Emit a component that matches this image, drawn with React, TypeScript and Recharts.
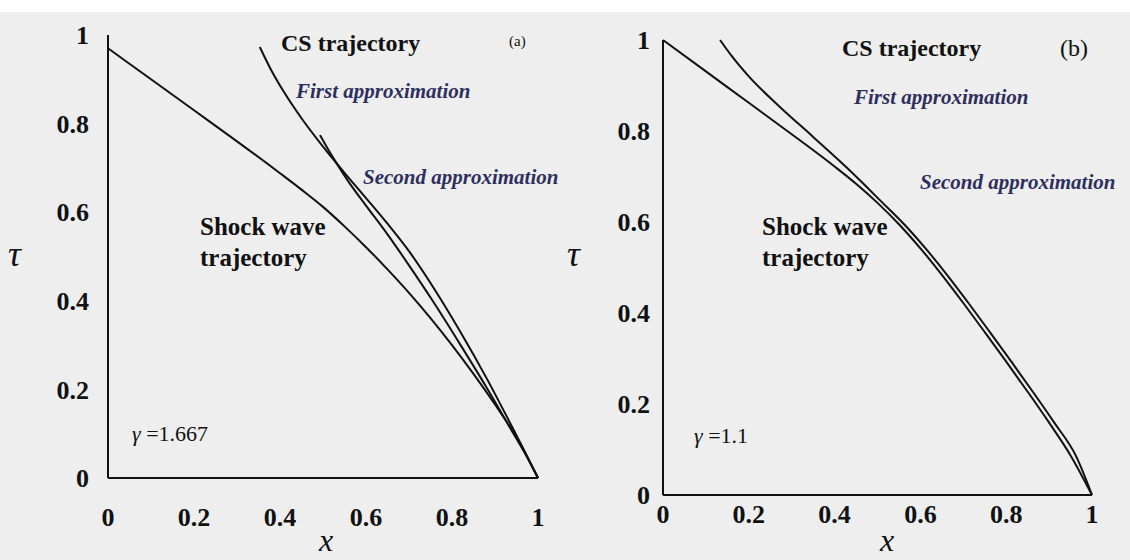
import React from 'react';
import { LineChart, Line, XAxis, YAxis } from 'recharts';

// axis ticks
const xTicks = [0, 0.2, 0.4, 0.6, 0.8, 1];
const tauTicks = [0, 0.2, 0.4, 0.6, 0.8, 1];

// (a) gamma = 1.667
const shockA_x = [0, 0.1, 0.2, 0.3, 0.4, 0.45, 0.5, 0.55, 0.6, 0.65, 0.7, 0.75, 0.8, 0.85, 0.9, 0.95, 1];
const shockA_tau = [0.97, 0.9, 0.83, 0.76, 0.688, 0.651, 0.612, 0.568, 0.521, 0.471, 0.418, 0.361, 0.3, 0.235, 0.166, 0.092, 0];
const firstA_x = [0.353, 0.38, 0.41, 0.45, 0.5, 0.55, 0.6, 0.65, 0.7, 0.76, 0.82, 0.88, 0.94, 0.97, 1];
const firstA_tau = [0.973, 0.92, 0.87, 0.812, 0.748, 0.689, 0.632, 0.574, 0.512, 0.425, 0.329, 0.226, 0.115, 0.058, 0];
const secondA_x = [0.493, 0.51, 0.53, 0.56, 0.6, 0.65, 0.7, 0.755, 0.82, 0.88, 0.94, 0.97, 1];
const secondA_tau = [0.774, 0.745, 0.713, 0.668, 0.615, 0.55, 0.48, 0.4, 0.3, 0.205, 0.105, 0.055, 0];

// (b) gamma = 1.1
const shockB_x = [0, 0.1, 0.2, 0.3, 0.4, 0.45, 0.5, 0.55, 0.6, 0.65, 0.7, 0.75, 0.8, 0.85, 0.9, 0.95, 1];
const shockB_tau = [1.0, 0.931, 0.862, 0.793, 0.722, 0.684, 0.642, 0.595, 0.542, 0.484, 0.422, 0.358, 0.293, 0.227, 0.159, 0.087, 0];
const csB_x = [0.133, 0.16, 0.2, 0.27, 0.35, 0.43, 0.512, 0.562, 0.612, 0.662, 0.712, 0.762, 0.812, 0.862, 0.912, 0.962, 1];
const csB_tau = [1.0, 0.965, 0.92, 0.855, 0.787, 0.718, 0.642, 0.595, 0.542, 0.484, 0.422, 0.358, 0.293, 0.227, 0.159, 0.087, 0];

const toPoints = (xs: number[], ts: number[]) => xs.map((x, i) => ({ x, tau: ts[i] }));

const SERIF = '"Liberation Serif", "Times New Roman", serif';
const INK = '#111';
const BLUE = '#2f2f5f';

const tickStyle = { fontFamily: SERIF, fontSize: 26, fontWeight: 700, fill: INK };

interface PanelProps {
  left: number;
  width: number;
  top: number;
  xAxisH: number;
  yAxisW: number;
  right: number;
  xTickMargin: number;
  yTickMargin: number;
  series: { x: number; tau: number }[][];
}

const Panel = ({ left, width, top, xAxisH, yAxisW, right, xTickMargin, yTickMargin, series }: PanelProps) => (
  <div style={{ position: 'absolute', left, top: 0 }}>
    <LineChart width={width} height={560} margin={{ top, right, bottom: 0, left: 0 }}>
      <XAxis
        type="number"
        dataKey="x"
        domain={[0, 1]}
        ticks={xTicks}
        interval={0}
        height={xAxisH}
        tickLine={false}
        tickSize={6}
        tickMargin={xTickMargin}
        axisLine={{ stroke: INK, strokeWidth: 2 }}
        tick={tickStyle}
      />
      <YAxis
        type="number"
        dataKey="tau"
        domain={[0, 1]}
        ticks={tauTicks}
        interval={0}
        width={yAxisW}
        tickLine={false}
        tickSize={6}
        tickMargin={yTickMargin}
        axisLine={{ stroke: INK, strokeWidth: 2 }}
        tick={tickStyle}
      />
      {series.map((s, i) => (
        <Line
          key={i}
          data={s}
          dataKey="tau"
          type="monotone"
          stroke={INK}
          strokeWidth={2}
          dot={false}
          isAnimationActive={false}
        />
      ))}
    </LineChart>
  </div>
);

const bold = { fontFamily: SERIF, fontWeight: 700, fill: INK };
const approx = { fontFamily: SERIF, fontWeight: 700, fontStyle: 'italic', fill: BLUE, fontSize: 21 };

export default function App() {
  return (
    <div style={{ position: 'absolute', left: 0, top: 0, width: 1130, height: 560, background: '#eeeeee', overflow: 'hidden' }}>
      <div style={{ position: 'absolute', left: 0, top: 0, width: 1130, height: 12, background: '#ffffff' }} />
      <Panel
        left={0}
        width={560}
        top={35}
        xAxisH={82}
        yAxisW={108}
        right={22}
        xTickMargin={24}
        yTickMargin={13}
        series={[toPoints(shockA_x, shockA_tau), toPoints(firstA_x, firstA_tau), toPoints(secondA_x, secondA_tau)]}
      />
      <Panel
        left={560}
        width={570}
        top={40}
        xAxisH={65}
        yAxisW={103}
        right={38}
        xTickMargin={4}
        yTickMargin={7}
        series={[toPoints(shockB_x, shockB_tau), toPoints(csB_x, csB_tau)]}
      />
      <svg width={1130} height={560} style={{ position: 'absolute', left: 0, top: 0, pointerEvents: 'none' }}>
        {/* panel (a) */}
        <text x={281} y={51} fontSize={24} {...bold}>CS trajectory</text>
        <text x={509} y={46} fontSize={15} fontFamily={SERIF} fill={INK}>(a)</text>
        <text x={296} y={98} {...approx}>First approximation</text>
        <text x={363} y={184} {...approx}>Second approximation</text>
        <text x={200} y={235} fontSize={25} {...bold}>Shock wave</text>
        <text x={200} y={266} fontSize={25} {...bold}>trajectory</text>
        <text x={132} y={441} fontSize={22} fontFamily={SERIF} fill={INK}>
          <tspan fontStyle="italic">γ</tspan> =1.667
        </text>
        <text x={8} y={266} fontSize={36} fontStyle="italic" fontFamily={SERIF} fill={INK}>τ</text>
        <text x={326} y={551} fontSize={32} fontStyle="italic" fontFamily={SERIF} fill={INK} textAnchor="middle">x</text>

        {/* panel (b) */}
        <text x={842} y={56} fontSize={24} {...bold}>CS trajectory</text>
        <text x={1060} y={56} fontSize={24} fontFamily={SERIF} fill={INK}>(b)</text>
        <text x={854} y={104} {...approx}>First approximation</text>
        <text x={920} y={189} {...approx}>Second approximation</text>
        <text x={762} y={235} fontSize={25} {...bold}>Shock wave</text>
        <text x={762} y={266} fontSize={25} {...bold}>trajectory</text>
        <text x={694} y={443} fontSize={22} fontFamily={SERIF} fill={INK}>
          <tspan fontStyle="italic">γ</tspan> =1.1
        </text>
        <text x={567} y={266} fontSize={36} fontStyle="italic" fontFamily={SERIF} fill={INK}>τ</text>
        <text x={887} y={551} fontSize={32} fontStyle="italic" fontFamily={SERIF} fill={INK} textAnchor="middle">x</text>
      </svg>
    </div>
  );
}
